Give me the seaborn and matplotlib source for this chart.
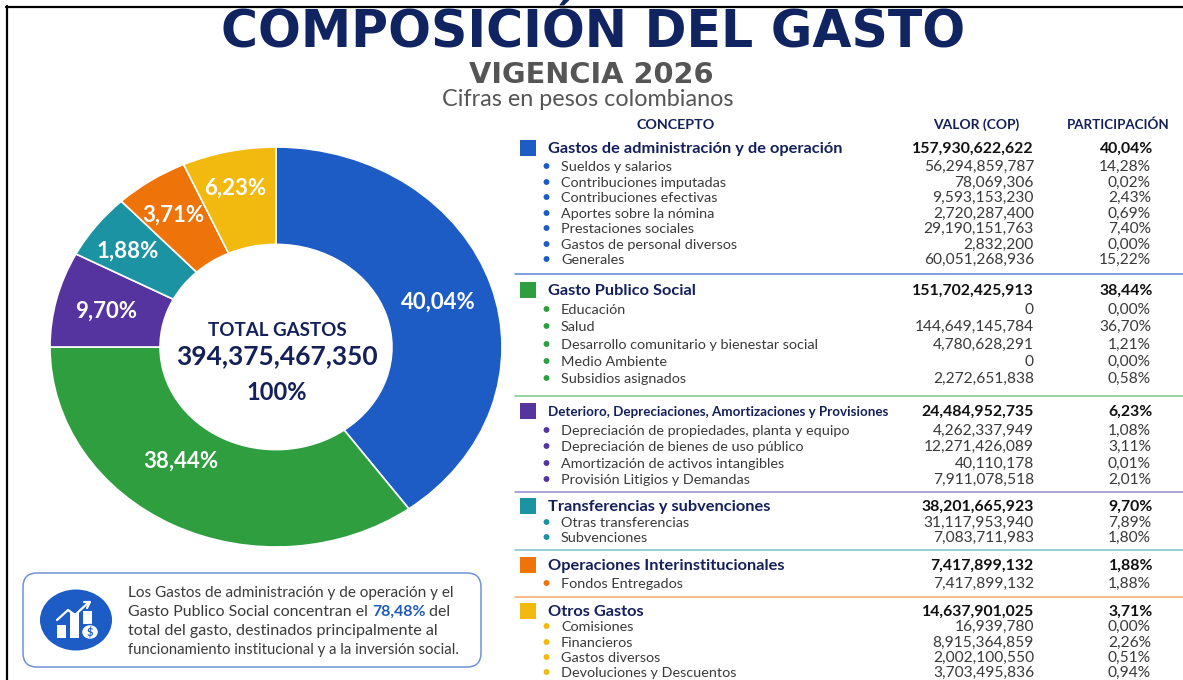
import matplotlib
matplotlib.use("Agg")
import matplotlib.pyplot as plt
import pandas as pd
import seaborn as sns
from matplotlib.patches import Ellipse, FancyBboxPatch, Rectangle

# Data
group_names = [
    "Gastos de administración y de operación",
    "Gasto Publico Social",
    "Deterioro, Depreciaciones, Amortizaciones y Provisiones",
    "Transferencias y subvenciones",
    "Operaciones Interinstitucionales",
    "Otros Gastos",
]
group_values = ["157,930,622,622", "151,702,425,913", "24,484,952,735",
                "38,201,665,923", "7,417,899,132", "14,637,901,025"]
group_pcts = ["40,04%", "38,44%", "6,23%", "9,70%", "1,88%", "3,71%"]

admin_items = ["Sueldos y salarios", "Contribuciones imputadas", "Contribuciones efectivas",
               "Aportes sobre la nómina", "Prestaciones sociales",
               "Gastos de personal diversos", "Generales"]
admin_values = ["56,294,859,787", "78,069,306", "9,593,153,230", "2,720,287,400",
                "29,190,151,763", "2,832,200", "60,051,268,936"]
admin_pcts = ["14,28%", "0,02%", "2,43%", "0,69%", "7,40%", "0,00%", "15,22%"]

social_items = ["Educación", "Salud", "Desarrollo comunitario y bienestar social",
                "Medio Ambiente", "Subsidios asignados"]
social_values = ["0", "144,649,145,784", "4,780,628,291", "0", "2,272,651,838"]
social_pcts = ["0,00%", "36,70%", "1,21%", "0,00%", "0,58%"]

deterioro_items = ["Depreciación de propiedades, planta y equipo",
                   "Depreciación de bienes de uso público",
                   "Amortización de activos intangibles", "Provisión Litigios y Demandas"]
deterioro_values = ["4,262,337,949", "12,271,426,089", "40,110,178", "7,911,078,518"]
deterioro_pcts = ["1,08%", "3,11%", "0,01%", "2,01%"]

transfer_items = ["Otras transferencias", "Subvenciones"]
transfer_values = ["31,117,953,940", "7,083,711,983"]
transfer_pcts = ["7,89%", "1,80%"]

inter_items = ["Fondos Entregados"]
inter_values = ["7,417,899,132"]
inter_pcts = ["1,88%"]

otros_items = ["Comisiones", "Financieros", "Gastos diversos", "Devoluciones y Descuentos"]
otros_values = ["16,939,780", "8,915,364,859", "2,002,100,550", "3,703,495,836"]
otros_pcts = ["0,00%", "2,26%", "0,51%", "0,94%"]

# Donut: the sizes as drawn in the picture, which differ from the printed labels
wedge_sizes = [40.0, 35.0, 7.7, 5.3, 5.3, 6.7]
wedge_labels = ["40,04%", "38,44%", "9,70%", "1,88%", "3,71%", "6,23%"]

# Layout, in reference pixels
heading_y = [149, 291, 412, 507, 566, 612]
item_y = [[167, 183, 198, 214, 229, 245, 260], [310, 327, 345, 362, 379],
          [431, 447, 464, 480], [523, 538], [584], [627, 643, 658, 673]]
rule_y = [274, 396, 492, 550, 597]
wedge_label_xy = [(438, 302), (181, 461), (106, 311), (128, 251), (173, 215), (235, 188)]

NAVY = "#14205a"
GREY = "#3a3a3a"
W, H = 1183, 680

sns.set_theme(style="white")
plt.rcParams["font.family"] = ["Lato", "DejaVu Sans"]

wedge_colors = sns.color_palette(["#1c5cc4", "#2e9e3f", "#55349f", "#1b93a3", "#ee7309", "#f2b90f"])
# Same groups, table order
group_colors = sns.color_palette(["#1c5cc4", "#2e9e3f", "#55349f", "#1b93a3", "#ee7309", "#f2b90f"])
rule_colors = ["#5b86d8", "#7cc58a", "#9488c8", "#7cc2c8", "#f5a66c"]

fig = plt.figure(figsize=(W / 100, H / 100), dpi=100, facecolor="white")

# Donut, stretched like the reference
ax_pie = fig.add_axes([50 / W, (H - 547) / H, 452 / W, 400 / H])
ax_pie.pie(wedge_sizes, colors=wedge_colors, startangle=90, counterclock=False, radius=1,
           wedgeprops={"width": 0.487, "edgecolor": "white", "linewidth": 1.2})
ax_pie.set_aspect("auto")
ax_pie.set_xlim(-1, 1)
ax_pie.set_ylim(-1, 1)
ax_pie.axis("off")

# Everything else sits on a full figure axes in pixel coordinates
ax = fig.add_axes([0, 0, 1, 1], facecolor="none")
ax.set_xlim(0, W)
ax.set_ylim(H, 0)
ax.axis("off")

ax.plot([6, W], [7, 7], color="black", lw=1.6)
ax.plot([7, 7], [6, H], color="black", lw=1.6)

ax.text(593, 48, "COMPOSICIÓN DEL GASTO", ha="center", va="baseline", fontsize=36.4,
        fontweight="bold", color="#0f2460", family=["DejaVu Sans"])
ax.text(591, 83, "VIGENCIA 2026", ha="center", va="baseline", fontsize=20.8, fontweight="bold",
        color="#555555", family=["DejaVu Sans"])
ax.text(588, 100, "Cifras en pesos colombianos", ha="center", va="center", fontsize=16.8, color="#555555")

for label, (x, y) in zip(wedge_labels, wedge_label_xy):
    ax.text(x, y, label, ha="center", va="center", fontsize=16, fontweight="bold", color="white")

ax.text(277, 330, "TOTAL GASTOS", ha="center", va="center", fontsize=13.5, fontweight="bold", color=NAVY)
ax.text(277, 356, "394,375,467,350", ha="center", va="center", fontsize=19, fontweight="bold", color=NAVY)
ax.text(277, 393, "100%", ha="center", va="center", fontsize=17, fontweight="bold", color=NAVY)

# Table
ax.text(676, 125, "CONCEPTO", ha="center", va="center", fontsize=10.3, fontweight="bold", color=NAVY)
ax.text(976, 125, "VALOR (COP)", ha="center", va="center", fontsize=10, fontweight="bold", color=NAVY)
ax.text(1118, 125, "PARTICIPACIÓN", ha="center", va="center", fontsize=9.6, fontweight="bold", color=NAVY)

all_items = [admin_items, social_items, deterioro_items, transfer_items, inter_items, otros_items]
all_values = [admin_values, social_values, deterioro_values, transfer_values, inter_values, otros_values]
all_pcts = [admin_pcts, social_pcts, deterioro_pcts, transfer_pcts, inter_pcts, otros_pcts]

bullets = []
for g, name in enumerate(group_names):
    size = 9.6 if g == 2 else 11.8
    ax.text(548, heading_y[g], name, va="center", fontsize=size, fontweight="bold", color=NAVY)
    ax.text(1034, heading_y[g], group_values[g], ha="right", va="center", fontsize=11.4, fontweight="bold", color="#111111")
    ax.text(1153, heading_y[g], group_pcts[g], ha="right", va="center", fontsize=11.4, fontweight="bold", color="#111111")
    for item, val, pct, y in zip(all_items[g], all_values[g], all_pcts[g], item_y[g]):
        ax.text(561, y, item, va="center", fontsize=10.4, color=GREY)
        ax.text(1034, y, val, ha="right", va="center", fontsize=11.2, color=GREY)
        ax.text(1151, y, pct, ha="right", va="center", fontsize=11.2, color=GREY)
        bullets.append({"x": 546.5, "y": y - 1, "group": name})
    if g < len(rule_y):
        ax.plot([515, W], [rule_y[g], rule_y[g]], color=rule_colors[g], lw=1.1)

bullet_df = pd.DataFrame(bullets)
palette = dict(zip(group_names, group_colors))
sns.scatterplot(data=bullet_df, x="x", y="y", hue="group", palette=palette, s=18, linewidth=0,
                legend=False, ax=ax)
square_df = pd.DataFrame({"x": [528] * len(group_names), "y": [y - 1 for y in heading_y], "group": group_names})
sns.scatterplot(data=square_df, x="x", y="y", hue="group", palette=palette, marker="s", s=125,
                linewidth=0, legend=False, ax=ax)
ax.set_xlim(0, W)
ax.set_ylim(H, 0)

# Callout box
ax.add_patch(FancyBboxPatch((23, 573), 458, 94, boxstyle="round,pad=0,rounding_size=14",
                            fc="white", ec="#6f93d6", lw=1.1))
ax.add_patch(Ellipse((76, 620), 72, 61, fc="#1c5cc4", ec="none"))
ax.add_patch(Rectangle((57, 625), 9, 13, fc="white", ec="none"))
ax.add_patch(Rectangle((70, 613), 9, 25, fc="white", ec="none"))
ax.add_patch(Rectangle((83, 611), 9, 13, fc="white", ec="none"))
ax.plot([57, 68, 75, 89], [620, 610, 615, 602], color="white", lw=1.6)
ax.plot([84, 90, 87], [602, 602, 608], color="white", lw=1.6)
ax.add_patch(Ellipse((90, 632), 17, 15, fc="white", ec="#1c5cc4", lw=1))
ax.text(90, 632, "$", ha="center", va="center", fontsize=8, fontweight="bold", color="#1c5cc4")

ax.text(128, 593, "Los Gastos de administración y de operación y el", va="center", fontsize=11, color=GREY)
ax.text(128, 631, "total del gasto, destinados principalmente al", va="center", fontsize=11.6, color=GREY)
ax.text(128, 650, "funcionamiento institucional y a la inversión social.", va="center", fontsize=10.7, color=GREY)

# Mixed line, pieces placed one after the other
renderer = fig.canvas.get_renderer()
x = 128
for piece, color, weight in [("Gasto Publico Social concentran el ", GREY, "normal"),
                             ("78,48%", "#1f5bb5", "bold"), (" del", GREY, "normal")]:
    t = ax.text(x, 612, piece.replace(" ", "\u00a0"), va="center", fontsize=11.4, color=color, fontweight=weight)
    x += t.get_window_extent(renderer).width

fig.savefig("out.png", dpi=100)
